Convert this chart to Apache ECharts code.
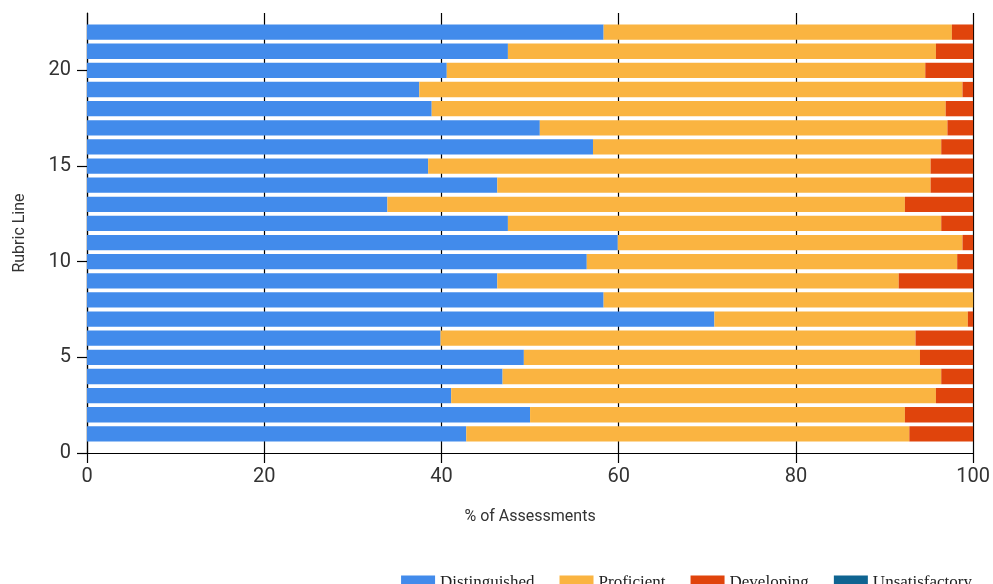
<!DOCTYPE html>
<html>
<head>
<meta charset="utf-8">
<script src="https://cdn.jsdelivr.net/npm/echarts@6/dist/echarts.min.js"></script>
<style>
html,body{margin:0;padding:0;background:#fff;}
#chart{width:993px;height:584px;}
</style>
</head>
<body>
<div id="chart"></div>
<script>
// Rubric lines (bottom to top)
const rubricLines = [1,2,3,4,5,6,7,8,9,10,11,12,13,14,15,16,17,18,19,20,21,22];
// Y axis domain end points (axis runs 0..23)
const yAxisMin = 0;
const yAxisMax = 23;
const yTickLabels = [0,5,10,15,20];
const xTickLabels = [0,20,40,60,80,100];

const seriesNames = ['Distinguished','Proficient','Developing','Unsatisfactory'];
const distinguished = [42.8,50.0,41.1,46.9,49.3,39.9,70.8,58.3,46.3,56.4,59.9,47.5,33.9,46.3,38.5,57.1,51.1,38.9,37.5,40.6,47.5,58.3];
const proficient    = [50.0,42.3,54.7,49.5,44.7,53.6,28.6,41.7,45.3,41.8,38.9,48.9,58.4,48.9,56.7,39.3,46.0,58.0,61.3,54.0,48.3,39.3];
const developing    = [7.2,7.7,4.2,3.6,6.0,6.5,0.6,0.0,8.4,1.8,1.2,3.6,7.7,4.8,4.8,3.6,2.9,3.1,1.2,5.4,4.2,2.4];
const unsatisfactory= [0,0,0,0,0,0,0,0,0,0,0,0,0,0,0,0,0,0,0,0,0,0];

const colors = ['#428BEB','#FAB441','#E0440C','#0F6491'];

// axis categories 0..23, bars at rubric line positions
const cats = [];
for (let v = yAxisMin; v <= yAxisMax; v++) cats.push(String(v));
function toAxisData(arr){
  const out = cats.map(() => '-');
  rubricLines.forEach((r, i) => { out[cats.indexOf(String(r))] = arr[i]; });
  return out;
}
const allData = [distinguished, proficient, developing, unsatisfactory];

const chart = echarts.init(document.getElementById('chart'), null, {renderer:'canvas'});
chart.setOption({
  animation: false,
  backgroundColor: '#fff',
  grid: {left: 87, right: 19, top: 13, bottom: 131, containLabel: false},
  xAxis: {
    type: 'value', min: 0, max: 100, interval: 20,
    name: '% of Assessments', nameLocation: 'middle', nameGap: 56,
    nameTextStyle: {fontFamily: 'Roboto', fontSize: 16, color: '#333'},
    axisLine: {show: true, lineStyle: {color: '#000', width: 1.2}},
    axisTick: {show: true, length: 10, lineStyle: {color: '#000', width: 1.2}},
    axisLabel: {fontFamily: 'Roboto', fontSize: 20, color: '#333', margin: 14},
    splitLine: {show: true, lineStyle: {color: '#000', width: 1.2}}
  },
  yAxis: {
    type: 'category', data: cats, boundaryGap: false,
    name: 'Rubric Line', nameLocation: 'middle', nameGap: 59,
    nameTextStyle: {fontFamily: 'Roboto', fontSize: 16, color: '#333'},
    axisLine: {show: true, lineStyle: {color: '#000', width: 1.2}},
    axisTick: {show: true, length: 10, interval: (i, v) => yTickLabels.indexOf(Number(v)) >= 0, lineStyle: {color: '#000', width: 1.2}},
    axisLabel: {fontFamily: 'Roboto', fontSize: 20, color: '#333', margin: 16,
      interval: (i, v) => yTickLabels.indexOf(Number(v)) >= 0},
    splitLine: {show: false}
  },
  legend: {
    data: seriesNames, top: 569, right: 16, icon: 'rect',
    itemWidth: 34, itemHeight: 14, itemGap: 25,
    textStyle: {fontFamily: 'Liberation Serif', fontSize: 17, color: '#222'}
  },
  series: seriesNames.map((n, k) => ({
    name: n, type: 'bar', stack: 'total', barWidth: '80%',
    itemStyle: {color: colors[k]},
    data: toAxisData(allData[k])
  }))
});
</script>
</body>
</html>
